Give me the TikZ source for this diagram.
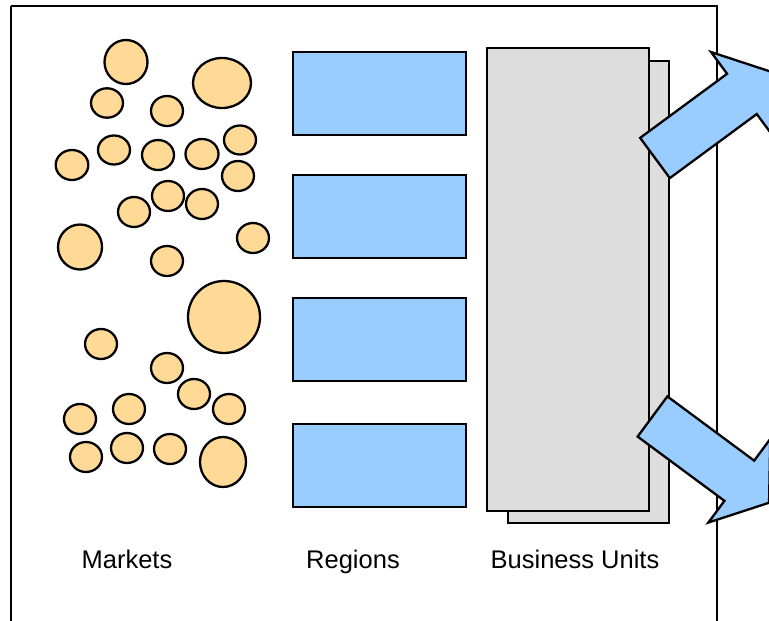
\documentclass[tikz,border=0pt]{standalone}
\usepackage{fontspec}
\setmainfont{Liberation Sans}
\definecolor{mkt}{RGB}{255,217,150}
\definecolor{reg}{RGB}{153,204,255}
\definecolor{bu}{RGB}{221,221,221}
\tikzset{
  mktc/.style={draw=black, line width=2.3pt, fill=mkt},
  regbox/.style={draw=black, line width=2.3pt, fill=reg},
  bubox/.style={draw=black, line width=2.3pt, fill=bu},
  bigarrow/.style={draw=black, line width=2.3pt, fill=reg, line join=miter},
  lbl/.style={font=\fontsize{25.5}{30}\selectfont, anchor=base, inner sep=0pt}
}
\begin{document}
\begin{tikzpicture}[x=1pt, y=-1pt]
\useasboundingbox (0,0) rectangle (769,621);
\clip (0,0) rectangle (769,621);
\fill[white] (0,0) rectangle (769,621);
% frame
\draw[line width=2.3pt] (11,6) -- (717,6) -- (717,640) (11,6) -- (11,640);
% markets
\foreach \x/\y/\rx/\ry [count=\i] in {
 126/62/21.5/22, 222/83/29/25, 107/103/16/14.7, 167/111/16/15,
 114/150/16/14.5, 158/155/16/15, 202/154/16.5/15, 240/140/16/14.5,
 72/165/16.3/15, 238/176/16/15, 168/196/16/15, 202/204/16/15,
 134/212/16/15, 80/247/22/22.5, 253/238/16/15, 167/261/16/15,
 224/317/36/36, 101/344/16/15, 167/368/16/15, 194/394/16/15,
 229/409/16/15, 129/409/16/15, 80/419/16/15, 86/457/16/15,
 127/448/16/15, 170/449/16/15, 223/462/23/25}
  \path[mktc] (\x,\y) coordinate (m\i) ellipse [x radius=\rx, y radius=\ry];
% regions
\path[regbox] (293,52) rectangle (466,135);
\path[regbox] (293,175) rectangle (466,258);
\path[regbox] (293,298) rectangle (466,381);
\path[regbox] (293,424) rectangle (466,507);
% business units
\path[bubox] (508,61) rectangle (669,523);
\path[bubox] (487,48) rectangle (649,511);
% arrows
\begin{scope}[shift={(655,158)}, rotate=36.4]
  \path[bigarrow] (0,25) -- (108,25) -- (108,52) -- (145,0) -- (108,-52) -- (108,-25) -- (0,-25) -- cycle;
\end{scope}
\begin{scope}[shift={(652.5,416.5)}, rotate=-36.5]
  \path[bigarrow] (0,25) -- (108,25) -- (108,52) -- (145,0) -- (108,-52) -- (108,-25) -- (0,-25) -- cycle;
\end{scope}
% labels
\node[lbl] (lm) at (127,568) {Markets};
\node[lbl] (lr) at (353,568) {Regions};
\node[lbl] (lb) at (575,568) {Business Units};
\end{tikzpicture}
\end{document}
